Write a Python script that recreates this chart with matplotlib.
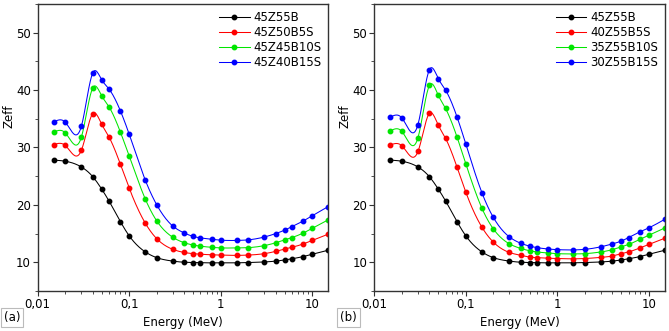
import numpy as np
import matplotlib.pyplot as plt
from matplotlib.ticker import FixedLocator, FixedFormatter, LogLocator, NullFormatter, MultipleLocator

# =============================
# data
# =============================

energy = [0.015, 0.02, 0.03, 0.04, 0.05, 0.06, 0.08, 0.1, 0.15, 0.2, 0.3, 0.4, 0.5,
          0.6, 0.8, 1, 1.5, 2, 3, 4, 5, 6, 8, 10, 15]

zeff_45Z55B = [27.8, 27.6, 26.6, 24.9, 22.75, 20.7, 17.1, 14.6, 11.8, 10.8, 10.2, 10.0, 9.95,
               9.9, 9.9, 9.9, 9.9, 9.95, 10.05, 10.2, 10.4, 10.6, 11.0, 11.4, 12.1]

# panel (a)
zeff_45Z50B5S = [30.5, 30.35, 29.5, 35.9, 34.05, 31.85, 27.1, 22.9, 16.8, 14.1, 12.25, 11.7, 11.5,
                 11.4, 11.3, 11.25, 11.2, 11.25, 11.5, 11.9, 12.3, 12.6, 13.2, 13.8, 14.9]
zeff_45Z45B10S = [32.7, 32.55, 31.8, 40.4, 39.0, 37.1, 32.7, 28.5, 21.0, 17.2, 14.35, 13.4, 13.0,
                  12.8, 12.6, 12.5, 12.5, 12.55, 12.9, 13.4, 13.9, 14.3, 15.1, 15.9, 17.4]
zeff_45Z40B15S = [34.45, 34.4, 33.7, 43.0, 41.8, 40.2, 36.4, 32.3, 24.3, 20.0, 16.3, 15.1, 14.5,
                  14.25, 14.0, 13.85, 13.8, 13.9, 14.4, 15.0, 15.6, 16.2, 17.2, 18.1, 19.7]

# panel (b)
zeff_40Z55B5S = [30.45, 30.3, 29.3, 35.95, 33.9, 31.6, 26.6, 22.2, 16.1, 13.5, 11.7, 11.2, 10.9,
                 10.8, 10.7, 10.65, 10.6, 10.65, 10.85, 11.1, 11.5, 11.8, 12.5, 13.1, 14.2]
zeff_35Z55B10S = [32.9, 32.8, 31.7, 40.8, 39.1, 36.8, 31.85, 27.15, 19.4, 15.8, 13.2, 12.4, 12.0,
                  11.8, 11.6, 11.5, 11.45, 11.5, 11.8, 12.2, 12.7, 13.1, 14.0, 14.7, 16.0]
zeff_30Z55B15S = [35.3, 35.15, 34.0, 43.55, 42.0, 40.0, 35.35, 30.6, 22.1, 17.8, 14.4, 13.3, 12.8,
                  12.55, 12.3, 12.2, 12.15, 12.25, 12.7, 13.2, 13.7, 14.3, 15.3, 16.0, 17.5]

labels_a = ['45Z55B', '45Z50B5S', '45Z45B10S', '45Z40B15S']
labels_b = ['45Z55B', '40Z55B5S', '35Z55B10S', '30Z55B15S']
series_a = [zeff_45Z55B, zeff_45Z50B5S, zeff_45Z45B10S, zeff_45Z40B15S]
series_b = [zeff_45Z55B, zeff_40Z55B5S, zeff_35Z55B10S, zeff_30Z55B15S]
colors = ['#000000', '#ff0000', '#00e600', '#0000ff']

# =============================

def natural_spline(x, y, xs):
    # natural cubic spline, only used to draw the smooth line through the points
    x = np.asarray(x, float)
    y = np.asarray(y, float)
    n = len(x)
    h = np.diff(x)
    A = np.zeros((n, n))
    r = np.zeros(n)
    A[0, 0] = 1
    A[-1, -1] = 1
    for i in range(1, n - 1):
        A[i, i - 1] = h[i - 1]
        A[i, i] = 2 * (h[i - 1] + h[i])
        A[i, i + 1] = h[i]
        r[i] = 3 * ((y[i + 1] - y[i]) / h[i] - (y[i] - y[i - 1]) / h[i - 1])
    c = np.linalg.solve(A, r)
    b = (y[1:] - y[:-1]) / h - h * (2 * c[:-1] + c[1:]) / 3
    d = (c[1:] - c[:-1]) / (3 * h)
    idx = np.clip(np.searchsorted(x, xs) - 1, 0, n - 2)
    dx = xs - x[idx]
    return y[idx] + b[idx] * dx + c[idx] * dx**2 + d[idx] * dx**3


def draw_panel(ax, series, labels):
    lx = np.log10(energy)
    xs = np.linspace(lx[0], lx[-1], 400)
    for vals, lab, col in zip(series, labels, colors):
        ys = natural_spline(lx, vals, xs)
        ax.plot(10**xs, ys, color=col, lw=0.75)
        ax.plot(energy, vals, 'o', color=col, ms=3.2, lw=0)
        ax.plot([], [], '-o', color=col, ms=3.2, lw=0.75, label=lab)

    ax.set_xscale('log')
    ax.set_xlim(0.01, 15)
    ax.set_ylim(5, 55)
    ax.xaxis.set_major_locator(FixedLocator([0.01, 0.1, 1, 10]))
    ax.xaxis.set_major_formatter(FixedFormatter(['0,01', '0,1', '1', '10']))
    ax.xaxis.set_minor_locator(LogLocator(base=10, subs=np.arange(2, 10)))
    ax.xaxis.set_minor_formatter(NullFormatter())
    ax.yaxis.set_major_locator(FixedLocator([10, 20, 30, 40, 50]))
    ax.yaxis.set_minor_locator(MultipleLocator(5))
    ax.tick_params(which='both', direction='out', labelsize=8.5, color='#333333', pad=1.5)
    ax.tick_params(which='major', length=3.5, width=0.8)
    ax.tick_params(which='minor', length=2, width=0.6)
    for s in ax.spines.values():
        s.set_linewidth(1.0)
        s.set_color('#333333')
    ax.set_xlabel('Energy (MeV)', fontsize=8.5, labelpad=4)
    ax.set_ylabel('Zeff', fontsize=8.5)
    ax.yaxis.set_label_coords(-0.078, 0.61)
    ax.legend(loc='upper right', frameon=False, fontsize=8.5, handlelength=2.6,
              handletextpad=0.3, labelspacing=0.18, borderaxespad=0.2)


fig = plt.figure(figsize=(6.69, 3.31), dpi=100)
ax_a = fig.add_axes([0.0564, 0.121, 0.4343, 0.867])
ax_b = fig.add_axes([0.5595, 0.121, 0.4345, 0.867])
draw_panel(ax_a, series_a, labels_a)
draw_panel(ax_b, series_b, labels_b)

box = dict(facecolor='white', edgecolor='#bbbbbb', linewidth=0.8, boxstyle='square,pad=0.25')
fig.text(0.006, 0.03, '(a)', fontsize=8.5, bbox=box)
fig.text(0.508, 0.03, '(b)', fontsize=8.5, bbox=box)

fig.savefig('out.png', dpi=100)
